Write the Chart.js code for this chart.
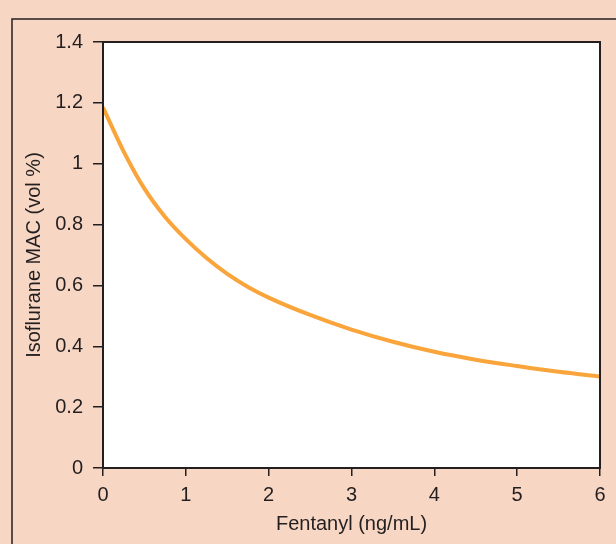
<!DOCTYPE html>
<html>
<head>
<meta charset="utf-8">
<script src="https://cdn.jsdelivr.net/npm/chart.js@4"></script>
<style>
  html, body { margin: 0; padding: 0; background: #f7d6c3; }
  canvas { display: block; }
</style>
</head>
<body>
<canvas id="macChart" width="616" height="544"></canvas>
<script>
// values
const fentanyl = [0, 0.25, 0.5, 0.75, 1, 1.25, 1.5, 1.75, 2, 2.5, 3, 3.5, 4, 4.5, 5, 5.5, 6];
const isofluraneMac = [1.185, 1.04, 0.918, 0.825, 0.752, 0.69, 0.638, 0.595, 0.56, 0.503, 0.455, 0.415, 0.382, 0.356, 0.335, 0.316, 0.301];
const yTickLabels = ['0', '0.2', '0.4', '0.6', '0.8', '1', '1.2', '1.4'];
const xTickLabels = ['0', '1', '2', '3', '4', '5', '6'];

const ink = '#231f20';
const fontFamily = '"Liberation Sans", Arial, Helvetica, sans-serif';

const framePlugin = {
  id: 'frame',
  beforeDraw(chart) {
    const ctx = chart.ctx;
    ctx.save();
    ctx.fillStyle = '#f7d6c3';
    ctx.fillRect(0, 0, chart.width, chart.height);
    ctx.strokeStyle = ink;
    ctx.lineWidth = 1.5;
    ctx.beginPath();
    ctx.moveTo(12, chart.height);
    ctx.lineTo(12, 19);
    ctx.lineTo(chart.width, 19);
    ctx.stroke();
    const a = chart.chartArea;
    ctx.fillStyle = '#ffffff';
    ctx.fillRect(a.left, a.top, a.right - a.left, a.bottom - a.top);
    ctx.restore();
  },
  afterDraw(chart) {
    const ctx = chart.ctx;
    const a = chart.chartArea;
    ctx.save();
    ctx.strokeStyle = ink;
    ctx.lineWidth = 2;
    ctx.strokeRect(a.left, a.top, a.right - a.left, a.bottom - a.top);
    ctx.restore();
  }
};

const ctx = document.getElementById('macChart').getContext('2d');
new Chart(ctx, {
  type: 'line',
  data: {
    datasets: [{
      data: fentanyl.map((x, i) => ({ x: x, y: isofluraneMac[i] })),
      borderColor: '#f9a53b',
      borderWidth: 4,
      pointRadius: 0,
      fill: false,
      cubicInterpolationMode: 'monotone'
    }]
  },
  options: {
    responsive: false,
    animation: false,
    layout: { padding: { left: 0, top: 42, right: 16, bottom: 0 } },
    plugins: { legend: { display: false }, tooltip: { enabled: false } },
    scales: {
      x: {
        type: 'linear',
        min: 0,
        max: 6,
        afterFit(scale) { scale.height = 76; },
        grid: { drawOnChartArea: false, drawTicks: true, tickLength: 8, color: ink, lineWidth: 1.5 },
        border: { display: true, color: ink, width: 2 },
        ticks: {
          stepSize: 1,
          padding: 7,
          color: ink,
          font: { family: fontFamily, size: 20 },
          callback: (v) => xTickLabels[Math.round(v)]
        },
        title: {
          display: true,
          text: 'Fentanyl (ng/mL)',
          color: ink,
          font: { family: fontFamily, size: 20 },
          padding: { top: 0, bottom: 8 }
        }
      },
      y: {
        min: 0,
        max: 1.4,
        afterFit(scale) { scale.width = 103; },
        grid: { drawOnChartArea: false, drawTicks: true, tickLength: 10, color: ink, lineWidth: 1.5 },
        border: { display: true, color: ink, width: 2 },
        ticks: {
          stepSize: 0.2,
          padding: 10,
          color: ink,
          font: { family: fontFamily, size: 20 },
          callback: (v) => yTickLabels[Math.round(v / 0.2)]
        },
        title: {
          display: true,
          text: 'Isoflurane MAC (vol %)',
          color: ink,
          font: { family: fontFamily, size: 20 },
          padding: { top: 22, bottom: 0 }
        }
      }
    }
  },
  plugins: [framePlugin]
});
</script>
</body>
</html>
